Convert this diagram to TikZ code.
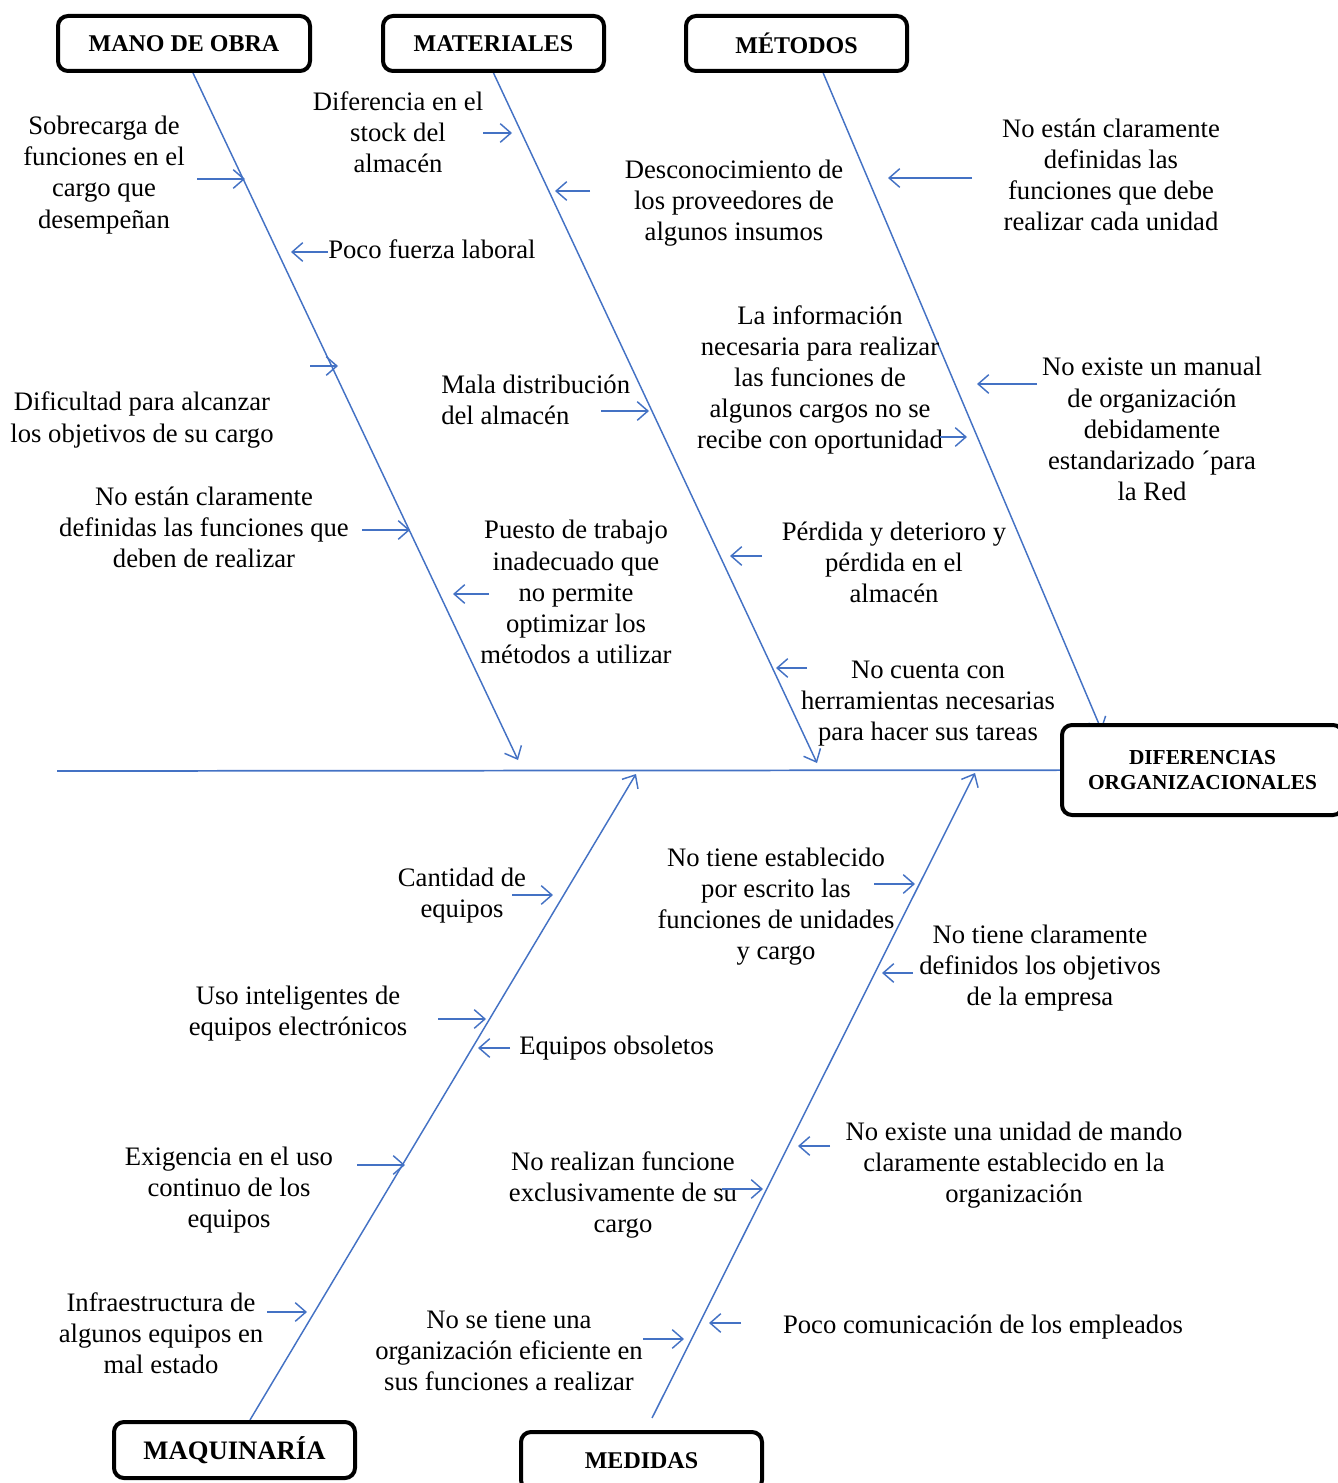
\documentclass[tikz,border=0pt]{standalone}
\usepackage{fontspec}
\setmainfont{Liberation Serif}
\usetikzlibrary{arrows.meta}
\definecolor{bonecol}{RGB}{68,114,196}
\pgfdeclarelayer{bg}
\pgfsetlayers{bg,main}

\begin{document}
\begin{tikzpicture}[x=0.75pt,y=-0.75pt,>={Straight Barb[length=8pt,width=14pt]},
  cat node/.style={draw,line width=3pt,rounded corners=7.5pt,fill=white,inner sep=0pt,
    minimum width=165.75pt,minimum height=41.25pt,font=\bfseries\fontsize{18}{21}\selectfont},
  txt node/.style={align=center,inner sep=0pt,font=\fontsize{20}{23.3}\selectfont},
  bone/.style={draw=bonecol,line width=1.1pt}]

  \useasboundingbox (0,0) rectangle (1337,1483);

  % category boxes
  \node[cat node,minimum width=189pt]  (mo)  at (184,43.5)   {MANO DE OBRA};
  \node[cat node]                      (mat) at (493.5,43.5) {MATERIALES};
  \node[cat node]                      (met) at (796.5,43.5) {MÉTODOS};
  \node[cat node,minimum width=180.75pt,minimum height=42pt,
    font=\bfseries\fontsize{20}{23}\selectfont] (maq) at (234.5,1450) {MAQUINARÍA};
  \node[cat node,minimum width=180.75pt,minimum height=43.5pt] (med) at (641.5,1461) {MEDIDAS};
  \node[cat node,align=center,minimum width=210.75pt,minimum height=67.5pt,
    font=\bfseries\fontsize{16}{18.75}\selectfont] (dif) at (1202.5,770)
    {DIFERENCIAS\\ORGANIZACIONALES};

  \coordinate (tail)  at (57,771);
  \coordinate (mo-b)  at (518,760);
  \coordinate (mat-b) at (817,763);
  \coordinate (maq-b) at (636,774);
  \coordinate (med-b) at (975,773);

  \begin{pgfonlayer}{bg}
  \draw[bone,line width=1.3pt] (tail) -- (dif);
  \draw[bone,->] ([xshift=6.75pt]mo.south) -- (mo-b);
  \draw[bone,->] (mat.south) -- (mat-b);
  \draw[bone,->,shorten >=-6pt] ([xshift=20pt]met.south) -- ([xshift=-78pt]dif.north);
  \draw[bone,->] ([xshift=11.6pt]maq.north) -- (maq-b);
  \draw[bone,->] ([xshift=7.9pt,yshift=9pt]med.north) -- (med-b);
  \end{pgfonlayer}

  % causes
  \node[txt node] (t1)  at (104,175)  {Sobrecarga de\\funciones en el\\cargo que\\desempeñan};
  \node[txt node,anchor=west] (t2) at (328,249) {Poco fuerza laboral};
  \node[txt node] (t3)  at (398,132)  {Diferencia en el\\stock del\\almacén};
  \node[txt node] (t4)  at (734,203)  {Desconocimiento de\\los proveedores de\\algunos insumos};
  \node[txt node] (t5)  at (1111,175) {No están claramente\\definidas las\\funciones que debe\\realizar cada unidad};
  \node[txt node] (t6)  at (142,420)  {Dificultad para alcanzar\\los objetivos de su cargo};
  \node[txt node,align=left,anchor=west] (t7) at (441,400) {Mala distribución\\del almacén};
  \node[txt node] (t8)  at (820,380)  {La información\\necesaria para realizar\\las funciones de\\algunos cargos no se\\recibe con oportunidad};
  \node[txt node] (t9)  at (1152,429) {No existe un manual\\de organización\\debidamente\\estandarizado ´para\\la Red};
  \node[txt node] (t10) at (204,527)  {No están claramente\\definidas las funciones que\\deben de realizar};
  \node[txt node] (t11) at (576,592)  {Puesto de trabajo\\inadecuado que\\no permite\\optimizar los\\métodos a utilizar};
  \node[txt node] (t12) at (894,562)  {Pérdida y deterioro y\\pérdida en el\\almacén};
  \node[txt node] (t13) at (928,704)  {No cuenta con\\herramientas necesarias\\para hacer sus tareas};
  \node[txt node] (t14) at (462,896)  {Cantidad de\\equipos};
  \node[txt node] (t15) at (298,1014) {Uso inteligentes de\\equipos electrónicos};
  \node[txt node,anchor=west] (t16) at (519,1048) {Equipos obsoletos};
  \node[txt node] (t17) at (229,1190) {Exigencia en el uso\\continuo de los\\equipos};
  \node[txt node] (t18) at (161,1333) {Infraestructura de\\algunos equipos en\\mal estado};
  \node[txt node] (t19) at (776,907)  {No tiene establecido\\por escrito las\\funciones de unidades\\y cargo};
  \node[txt node] (t20) at (1040,968) {No tiene claramente\\definidos los objetivos\\de la empresa};
  \node[txt node] (t21) at (1014,1165) {No existe una unidad de mando\\claramente establecido en la\\organización};
  \node[txt node] (t22) at (623,1195) {No realizan funcione\\exclusivamente de su\\cargo};
  \node[txt node] (t23) at (509,1351) {No se tiene una\\organización eficiente en\\sus funciones a realizar};
  \node[txt node] (t24) at (983,1327) {Poco comunicación de los empleados};

  % arrow ends
  \coordinate (p1)  at (197,179);  \coordinate (q1)  at (245,179);
  \coordinate (p2)  at (328,252);  \coordinate (q2)  at (291,252);
  \coordinate (p3)  at (483,133);  \coordinate (q3)  at (512,133);
  \coordinate (p4)  at (590,191);  \coordinate (q4)  at (555,191);
  \coordinate (p5)  at (972,178);  \coordinate (q5)  at (888,178);
  \coordinate (p6)  at (310,366);  \coordinate (q6)  at (338,366);
  \coordinate (p7)  at (601,411);  \coordinate (q7)  at (649,411);
  \coordinate (p8)  at (940,437);  \coordinate (q8)  at (967,437);
  \coordinate (p9)  at (1037,384); \coordinate (q9)  at (977,384);
  \coordinate (p10) at (362,530);  \coordinate (q10) at (410,530);
  \coordinate (p11) at (489,594);  \coordinate (q11) at (453,594);
  \coordinate (p12) at (762,556);  \coordinate (q12) at (730,556);
  \coordinate (p13) at (807,668);  \coordinate (q13) at (776,668);
  \coordinate (p14) at (512,895);  \coordinate (q14) at (553,895);
  \coordinate (p15) at (438,1019); \coordinate (q15) at (486,1019);
  \coordinate (p16) at (510,1048); \coordinate (q16) at (478,1048);
  \coordinate (p17) at (357,1165); \coordinate (q17) at (405,1165);
  \coordinate (p18) at (267,1312); \coordinate (q18) at (307,1312);
  \coordinate (p19) at (874,884);  \coordinate (q19) at (915,884);
  \coordinate (p20) at (913,973);  \coordinate (q20) at (882,973);
  \coordinate (p21) at (830,1146); \coordinate (q21) at (798,1146);
  \coordinate (p22) at (722,1189); \coordinate (q22) at (763,1189);
  \coordinate (p23) at (643,1339); \coordinate (q23) at (684,1339);
  \coordinate (p24) at (741,1323); \coordinate (q24) at (709,1323);

  \path[every edge/.append style={bone,->}]
    (p1) edge (q1)   (p2) edge (q2)   (p3) edge (q3)   (p4) edge (q4)
    (p5) edge (q5)   (p6) edge (q6)   (p7) edge (q7)   (p8) edge (q8)
    (p9) edge (q9)   (p10) edge (q10) (p11) edge (q11) (p12) edge (q12)
    (p13) edge (q13) (p14) edge (q14) (p15) edge (q15) (p16) edge (q16)
    (p17) edge (q17) (p18) edge (q18) (p19) edge (q19) (p20) edge (q20)
    (p21) edge (q21) (p22) edge (q22) (p23) edge (q23) (p24) edge (q24);

\end{tikzpicture}
\end{document}
